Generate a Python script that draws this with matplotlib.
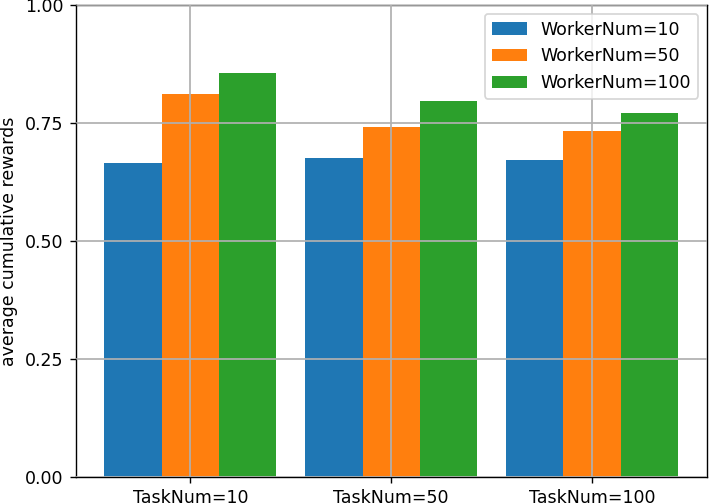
import matplotlib
matplotlib.use("Agg")
import matplotlib.pyplot as plt
import numpy as np

categories = ["TaskNum=10", "TaskNum=50", "TaskNum=100"]
series_names = ["WorkerNum=10", "WorkerNum=50", "WorkerNum=100"]
worker10 = [0.665, 0.676, 0.671]
worker50 = [0.811, 0.742, 0.732]
worker100 = [0.855, 0.796, 0.771]
yticks = [0.0, 0.25, 0.5, 0.75, 1.0]
ytick_labels = ["0.00", "0.25", "0.50", "0.75", "1.00"]

colors = ["#1f77b4", "#ff7f0e", "#2ca02c"]

dpi = 125
fig = plt.figure(figsize=(711 / dpi, 503 / dpi), dpi=dpi)
ax = fig.add_axes([75.7 / 711, 26.3 / 503, (706.7 - 75.7) / 711, (476.7 - 5) / 503])

x = np.arange(len(categories))
w = 2 / 7
for i, (vals, name) in enumerate(zip([worker10, worker50, worker100], series_names)):
    ax.bar(x + (i - 1) * w, vals, w, color=colors[i], label=name)

ax.set_xticks(x)
ax.set_xticklabels(categories)
ax.set_yticks(yticks)
ax.set_yticklabels(ytick_labels)
ax.set_ylim(0, 1.0)
ax.set_ylabel("average cumulative rewards")
ax.set_axisbelow(False)
ax.grid(True, color="#b0b0b0", linewidth=1.0)
ax.legend(loc="upper right")

fig.savefig("out.png", dpi=dpi)
